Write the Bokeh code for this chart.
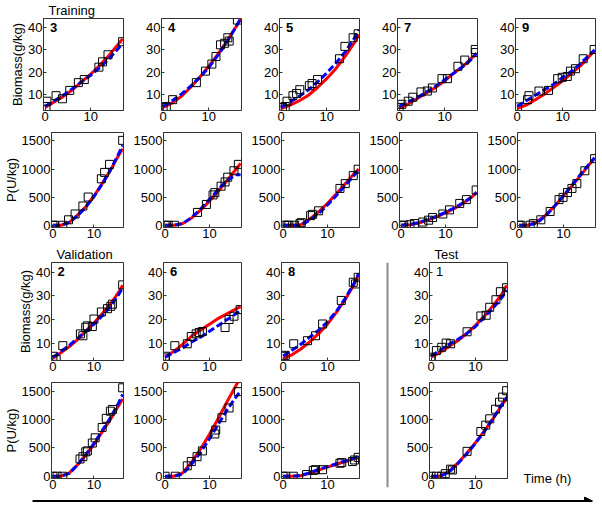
from bokeh.plotting import figure
from bokeh.layouts import row, column
from bokeh.models import Label, Span, Arrow, NormalHead, FixedTicker, Range1d
from bokeh.embed import file_html
from bokeh.resources import INLINE

# ---------------- data ----------------
T_MODEL = [0, 2, 4, 6, 8, 10, 12, 14, 16, 17]

# observed biomass (g/kg): sample times and values per experiment
TX = {
    3: [0.2, 0.4, 2.4, 3.8, 5.4, 7.3, 8.6, 11.8, 12.6, 13.8, 17.0],
    4: [0, 0.7, 2.1, 7.3, 9.3, 10.7, 11.6, 12.6, 13.5, 14.2, 14.5, 16.3],
    5: [0.3, 0.9, 1.3, 2.6, 3.4, 4.1, 6.2, 6.8, 8.0, 12.8, 14.0, 15.8, 16.9],
    7: [0, 0.6, 2.0, 3.0, 4.8, 6.2, 7.3, 9.4, 10.6, 12.9, 14.4, 16.7, 16.8],
    9: [0.1, 2.3, 2.6, 4.8, 6.9, 8.9, 9.9, 11.0, 11.7, 12.8, 14.5, 16.9],
    2: [0, 0.8, 2.4, 6.7, 7.3, 8.0, 8.4, 9.6, 10.0, 11.8, 13.3, 14.1, 14.5, 17.0],
    6: [0, 0.1, 2.2, 5.0, 5.9, 7.0, 7.7, 8.4, 13.5, 14.4, 15.5, 16.9],
    8: [0, 0.5, 2.4, 5.5, 7.3, 8.9, 13.1, 15.8, 16.3, 16.9],
    1: [0, 0, 1.2, 2.4, 3.4, 4.4, 8.1, 11.2, 12.4, 13.2, 14.6, 15.6, 17.0],
}
X_OBS = {
    3: [4.4, 6.8, 9.3, 7.9, 11.7, 15.2, 16.6, 22.2, 24.6, 27.8, 33.7],
    4: [4.0, 4.4, 7.5, 15.2, 20.4, 23.6, 27.0, 32.3, 33.0, 35.5, 34.0, 43.5],
    5: [4.0, 4.4, 6.8, 9.3, 10.3, 12.0, 13.8, 14.8, 16.6, 26.0, 31.6, 35.5, 37.3],
    7: [4.0, 5.4, 6.8, 8.6, 11.0, 11.4, 12.8, 17.0, 17.0, 22.6, 25.4, 30.2, 28.8],
    9: [4.2, 7.5, 9.3, 11.4, 11.7, 17.0, 17.6, 18.0, 20.4, 21.5, 26.0, 30.2],
    2: [4.4, 3.0, 8.9, 13.9, 13.1, 16.7, 17.3, 17.0, 20.2, 23.2, 24.6, 25.6, 26.5, 34.7],
    6: [3.7, 4.4, 8.9, 9.7, 12.8, 13.9, 14.5, 14.9, 16.6, 20.0, 21.4, 24.2],
    8: [4.4, 4.8, 9.7, 11.0, 13.1, 18.1, 28.1, 35.8, 35.1, 37.9],
    1: [3.1, 4.0, 6.8, 8.2, 10.0, 9.7, 14.8, 21.5, 21.8, 25.2, 28.4, 31.8, 33.5],
}
# observed product P (U/kg)
TP = {
    3: [0, 0.4, 2.4, 3.8, 5.4, 7.3, 8.6, 11.8, 12.6, 13.8, 17.0],
    4: [0, 0.7, 2.1, 7.3, 9.3, 10.8, 11.2, 12.6, 13.5, 14.1, 15.5, 16.5],
    5: [0.3, 0.9, 1.3, 2.6, 3.8, 4.1, 6.2, 6.6, 8.0, 12.8, 14.0, 15.8, 16.9],
    7: [0, 0.6, 2.0, 3.0, 4.9, 6.2, 7.1, 9.4, 10.9, 13.2, 14.7, 16.9],
    9: [0, 0.4, 2.5, 3.2, 4.9, 7.0, 9.0, 9.9, 10.9, 11.9, 13.0, 14.8, 17.0],
    2: [0, 1.0, 2.4, 6.6, 7.3, 8.0, 8.4, 9.6, 10.3, 12.0, 13.0, 14.0, 14.5, 17.0],
    6: [0, 2.3, 5.0, 5.9, 7.2, 8.4, 11.2, 11.4, 12.8, 14.4, 16.5],
    8: [0, 0.6, 2.3, 5.3, 6.8, 7.3, 8.9, 12.8, 13.2, 15.6, 16.1, 16.9],
    1: [0, 1.2, 2.4, 3.2, 4.4, 4.8, 8.1, 11.2, 12.3, 13.2, 14.5, 15.4, 16.1, 17.0],
}
P_OBS = {
    3: [0, 0, 0, 97, 200, 342, 502, 826, 940, 1083, 1510],
    4: [0, 0, 0, 228, 370, 540, 580, 695, 770, 855, 969, 1083],
    5: [0, 0, 0, 0, 28, 46, 171, 194, 257, 655, 741, 883, 997],
    7: [0, 0, 10, 30, 57, 90, 137, 200, 274, 388, 456, 627],
    9: [0, 0, 0, 28, 97, 245, 456, 496, 581, 655, 741, 969, 1185],
    2: [0, 0, 0, 303, 344, 429, 446, 584, 676, 859, 1019, 1145, 1174, 1557],
    6: [0, 0, 183, 258, 344, 446, 744, 813, 1030, 1202, 1489],
    8: [0, 0, 0, 29, 103, 115, 115, 229, 240, 258, 286, 332],
    1: [0, 0, 0, 45, 124, 110, 438, 787, 899, 1011, 1180, 1303, 1393, 1506],
}
# model curves at T_MODEL: red (solid) and blue (dashed)
X_RED = {
    3: [4.0, 6.5, 9.0, 12.0, 15.5, 19.0, 23.0, 27.5, 32.5, 35.0],
    4: [4.0, 6.0, 9.0, 13.0, 17.5, 22.5, 28.0, 34.0, 40.5, 44.0],
    5: [3.5, 5.0, 7.0, 9.5, 13.0, 17.0, 21.5, 27.0, 33.0, 37.0],
    7: [3.5, 5.5, 8.0, 10.5, 13.0, 16.0, 19.5, 22.5, 26.5, 28.5],
    9: [3.5, 5.0, 7.5, 10.0, 13.0, 16.0, 19.5, 23.0, 27.5, 29.5],
    2: [3.5, 6.0, 8.5, 11.5, 15.0, 18.5, 22.5, 26.5, 31.5, 34.5],
    6: [4.0, 6.5, 9.5, 13.0, 15.5, 18.0, 20.5, 22.5, 24.5, 25.5],
    8: [3.5, 5.0, 7.5, 10.5, 14.0, 18.0, 23.0, 28.5, 35.0, 39.0],
    1: [4.0, 6.0, 8.5, 11.0, 14.0, 17.5, 21.5, 26.0, 31.0, 34.5],
}
X_BLUE = {
    3: [4.5, 7.0, 9.5, 12.5, 15.5, 18.5, 22.0, 26.0, 30.5, 33.0],
    4: [4.5, 7.0, 10.0, 13.5, 17.5, 22.0, 27.5, 33.5, 40.5, 44.0],
    5: [4.0, 6.5, 9.0, 12.0, 15.5, 19.5, 24.0, 29.0, 35.0, 39.0],
    7: [4.5, 6.5, 8.5, 11.0, 13.5, 16.5, 19.5, 22.5, 26.0, 28.5],
    9: [4.5, 7.0, 9.5, 12.0, 14.5, 17.5, 20.5, 24.0, 28.0, 30.0],
    2: [4.0, 6.5, 9.0, 12.0, 15.0, 18.0, 21.5, 25.5, 30.5, 33.5],
    6: [4.0, 6.0, 8.0, 10.5, 12.5, 15.0, 17.5, 20.0, 22.5, 24.0],
    8: [4.5, 7.0, 9.5, 12.5, 15.5, 19.0, 23.5, 29.0, 35.5, 39.5],
    1: [4.5, 7.0, 9.5, 11.5, 14.0, 17.0, 21.0, 25.0, 29.5, 32.5],
}
P_RED = {
    3: [0, 0, 50, 180, 330, 520, 740, 980, 1240, 1360],
    4: [0, 0, 30, 130, 270, 430, 610, 800, 1000, 1100],
    5: [0, 0, 10, 110, 240, 390, 560, 740, 920, 1000],
    7: [0, 10, 40, 90, 150, 220, 300, 390, 510, 590],
    9: [0, 0, 60, 180, 340, 520, 710, 900, 1100, 1190],
    2: [0, 0, 60, 200, 370, 560, 780, 1000, 1240, 1360],
    6: [0, 0, 60, 250, 480, 740, 1020, 1320, 1600, 1760],
    8: [0, 0, 10, 50, 110, 160, 210, 260, 310, 330],
    1: [0, 0, 80, 230, 400, 590, 800, 1020, 1260, 1370],
}
P_BLUE = {
    3: [0, 0, 50, 170, 320, 510, 730, 980, 1270, 1420],
    4: [0, 0, 30, 140, 290, 460, 640, 800, 900, 900],
    5: [0, 0, 0, 90, 210, 360, 530, 710, 890, 980],
    7: [0, 15, 50, 100, 160, 230, 310, 400, 510, 580],
    9: [0, 0, 40, 170, 340, 530, 720, 920, 1110, 1200],
    2: [0, 0, 50, 200, 380, 580, 800, 1030, 1290, 1440],
    6: [0, 0, 40, 220, 420, 660, 920, 1170, 1400, 1500],
    8: [0, 0, 15, 60, 120, 170, 220, 270, 320, 340],
    1: [0, 0, 70, 220, 390, 580, 790, 1020, 1270, 1390],
}
X_TICKS = [0, 10]
BIO_TICKS = [10, 20, 30, 40]
P_TICKS = [0, 500, 1000, 1500]

# ---------------- styling helpers ----------------
FONT = "Liberation Sans"
FW = 80


def panel(kind, exp, left, right, top, fh, bottom, ylabel=None, title=None, bold=True):
    if kind == "X":
        yr = Range1d(2.6, 44.2)
        yt = BIO_TICKS
    else:
        yr = Range1d(-40, 1650)
        yt = P_TICKS
    p = figure(width=left + FW + right, height=top + fh + bottom,
               x_range=Range1d(-0.35, 17.2), y_range=yr,
               output_backend="svg", toolbar_location=None, title=title,
               min_border_left=left, min_border_right=right,
               min_border_top=top, min_border_bottom=bottom)
    p.xgrid.visible = False
    p.ygrid.visible = False
    p.outline_line_color = "#333333"
    p.outline_line_width = 1
    p.background_fill_color = "white"
    p.border_fill_color = "white"
    p.xaxis.ticker = FixedTicker(ticks=X_TICKS)
    p.yaxis.ticker = FixedTicker(ticks=yt)
    for ax in p.axis:
        ax.major_label_text_font = FONT
        ax.major_label_text_font_size = "13px"
        ax.major_label_text_color = "black"
        ax.major_tick_in = 3
        ax.major_tick_out = 0
        ax.major_tick_line_color = "#333333"
        ax.minor_tick_line_color = None
        ax.axis_line_color = "#333333"
        ax.major_label_standoff = 1
    if ylabel:
        p.yaxis.axis_label = ylabel
        p.yaxis.axis_label_text_font = FONT
        p.yaxis.axis_label_text_font_size = "13px"
        p.yaxis.axis_label_text_font_style = "normal"
        p.yaxis.axis_label_text_color = "black"
        p.yaxis.axis_label_standoff = 0
    if title:
        p.title.text_font = FONT
        p.title.text_font_size = "13px"
        p.title.text_font_style = "normal"
        p.title.text_color = "black"
        p.title.align = "left"
        p.title.offset = 5
        p.title.standoff = 1
    if kind == "X":
        obs_t, obs_v, red, blue = TX[exp], X_OBS[exp], X_RED[exp], X_BLUE[exp]
    else:
        obs_t, obs_v, red, blue = TP[exp], P_OBS[exp], P_RED[exp], P_BLUE[exp]
    p.line(T_MODEL, red, line_color="#ff0000", line_width=3)
    p.line(T_MODEL, blue, line_color="#0000ff", line_width=3, line_dash="7 3")
    p.scatter(obs_t, obs_v, marker="square", size=8, fill_color=None,
              line_color="black", line_width=1)
    if kind == "X":
        p.add_layout(Label(x=1.1, y=42.2, text=str(exp), text_font=FONT,
                           text_font_size="13px",
                           text_font_style="bold" if bold else "normal",
                           text_baseline="top", text_color="black"))
    return p


# ---------------- layout ----------------
TRAIN = [3, 4, 5, 7, 9]
LEFTS = [43, 31, 31, 31, 31]
RIGHTS = [7, 7, 7, 7, 3]

row1 = []
row2 = []
for i, e in enumerate(TRAIN):
    row1.append(panel("X", e, LEFTS[i], RIGHTS[i], 16, 94, 17,
                      ylabel="Biomass(g/kg)" if i == 0 else None,
                      title="Training" if i == 0 else None))
    row2.append(panel("P", e, LEFTS[i], RIGHTS[i], 5, 95, 17,
                      ylabel="P(U/kg)" if i == 0 else None))

VALID = [2, 6, 8]
cols = []
for i, e in enumerate(VALID):
    fx = panel("X", e, LEFTS[i], 7, 18, 98, 17,
               ylabel="Biomass(g/kg)" if i == 0 else None,
               title="Validation" if i == 0 else None)
    fp = panel("P", e, LEFTS[i], 7, 5, 96, 15,
               ylabel="P(U/kg)" if i == 0 else None)
    cols.append(column(fx, fp, spacing=0))

BLOCK_H = (18 + 98 + 17) + (5 + 96 + 15)

# grey vertical separator between validation and test panels
sep = figure(width=30, height=BLOCK_H, x_range=Range1d(0, 30), y_range=Range1d(0, 1),
             output_backend="svg", toolbar_location=None,
             x_axis_location=None, y_axis_location=None,
             min_border_left=0, min_border_right=0, min_border_top=18, min_border_bottom=6)
sep.grid.visible = False
sep.outline_line_color = None
sep.add_layout(Span(location=21, dimension="height", line_color="#8a8a8a", line_width=2))

tx = panel("X", 1, 31, 5, 18, 98, 17, title="Test", bold=False)
tp = panel("P", 1, 31, 5, 5, 96, 15)

# strip to the right of the test panels carrying the time caption
cap_w = 598 - 366 - 30 - (31 + FW + 5)
cap = figure(width=cap_w, height=BLOCK_H,
             x_range=Range1d(0, cap_w), y_range=Range1d(0, BLOCK_H),
             output_backend="svg", toolbar_location=None,
             x_axis_location=None, y_axis_location=None,
             min_border_left=0, min_border_right=0, min_border_top=0, min_border_bottom=0)
cap.grid.visible = False
cap.outline_line_color = None
cap.add_layout(Label(x=11, y=2, text="Time (h)", text_font=FONT,
                     text_font_size="13px", text_baseline="bottom", text_color="black"))

# long arrow along the bottom
arrow_fig = figure(width=598, height=9, x_range=Range1d(0, 598), y_range=Range1d(0, 9),
                   output_backend="svg", toolbar_location=None,
                   x_axis_location=None, y_axis_location=None,
                   min_border_left=0, min_border_right=0, min_border_top=0, min_border_bottom=0)
arrow_fig.grid.visible = False
arrow_fig.outline_line_color = None
arrow_fig.add_layout(Arrow(end=NormalHead(size=8, fill_color="black", line_color="black"),
                           x_start=32, y_start=4.5, x_end=592, y_end=4.5,
                           line_color="black", line_width=1.8))

layout = column(
    row(*row1, spacing=0),
    row(*row2, spacing=0),
    row(*cols, sep, column(tx, tp, spacing=0), cap, spacing=0),
    arrow_fig,
    spacing=0,
)

open("out.html", "w").write(file_html(layout, INLINE))
